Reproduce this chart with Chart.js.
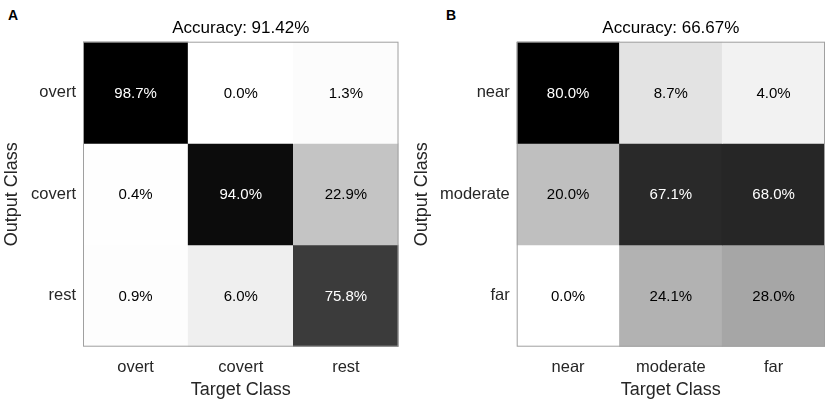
<!DOCTYPE html>
<html>
<head>
<meta charset="utf-8">
<script src="https://cdn.jsdelivr.net/npm/chart.js@4.4.0/dist/chart.umd.min.js"></script>
<style>
  html, body { margin: 0; padding: 0; background: #fff; }
  body { width: 829px; height: 404px; position: relative; overflow: hidden; font-family: "Liberation Sans", Arial, sans-serif; }
  canvas { position: absolute; top: 0; }
  .plabel { position: absolute; font-weight: bold; font-size: 14px; line-height: 14px; color: #000; }
</style>
</head>
<body>
<div class="plabel" style="left:8px; top:8px;">A</div>
<div class="plabel" style="left:446px; top:8px;">B</div>
<canvas id="cA" width="410" height="404" style="left:0px; width:410px; height:404px;"></canvas>
<canvas id="cB" width="419" height="404" style="left:410px; width:419px; height:404px;"></canvas>
<script>
// ---- Data ----
const classesA = ['overt', 'covert', 'rest'];
const rowA_overt  = [98.7, 0.0, 1.3];
const rowA_covert = [0.4, 94.0, 22.9];
const rowA_rest   = [0.9, 6.0, 75.8];
const accuracyA = 'Accuracy: 91.42%';

const classesB = ['near', 'moderate', 'far'];
const rowB_near     = [80.0, 8.7, 4.0];
const rowB_moderate = [20.0, 67.1, 68.0];
const rowB_far      = [0.0, 24.1, 28.0];
const accuracyB = 'Accuracy: 66.67%';

const xTitle = 'Target Class';
const yTitle = 'Output Class';

const FONT = '"Liberation Sans", Arial, sans-serif';
const TEXT = '#262626';

function grayFor(v, max) {
  const g = Math.round(255 * (1 - v / max));
  return 'rgb(' + g + ',' + g + ',' + g + ')';
}

function makePanel(id, classes, rows, accuracy, geom) {
  const max = Math.max(...rows.flat());
  const datasets = rows.map((row, i) => ({
    label: classes[i],
    data: row.map(() => [i, i + 1]),
    values: row,
    backgroundColor: row.map(v => grayFor(v, max)),
    borderWidth: 0,
    grouped: false,
    barPercentage: 1,
    categoryPercentage: 1
  }));

  const cellPlugin = {
    id: 'cells',
    afterDatasetsDraw(chart) {
      const ctx = chart.ctx;
      ctx.save();
      ctx.font = '15px ' + FONT;
      ctx.textAlign = 'center';
      ctx.textBaseline = 'middle';
      chart.data.datasets.forEach((ds, i) => {
        const meta = chart.getDatasetMeta(i);
        meta.data.forEach((bar, j) => {
          const v = ds.values[j];
          const cy = (bar.y + bar.base) / 2;
          ctx.fillStyle = (v / max > 0.5) ? '#ffffff' : '#000000';
          ctx.fillText(v.toFixed(1) + '%', bar.x, cy + 1);
        });
      });
      const a = chart.chartArea;
      ctx.strokeStyle = '#a0a0a0';
      ctx.lineWidth = 1;
      ctx.strokeRect(a.left + 0.5, a.top + 0.5, a.right - a.left - 1, a.bottom - a.top - 1);
      ctx.restore();
    }
  };

  const canvas = document.getElementById(id);
  const W = canvas.width, H = canvas.height;

  return new Chart(canvas, {
    type: 'bar',
    data: { labels: classes, datasets },
    options: {
      responsive: false,
      animation: false,
      devicePixelRatio: 1,
      layout: { padding: { left: 0, top: 0, bottom: 0, right: W - geom.right } },
      plugins: {
        legend: { display: false },
        tooltip: { enabled: false },
        title: {
          display: true,
          text: accuracy,
          fullSize: false,
          color: '#000',
          font: { family: FONT, size: 17, weight: 'normal', lineHeight: 1.2 },
          padding: { top: 17.8, bottom: geom.top - 17.8 - 20.4 }
        }
      },
      scales: {
        x: {
          type: 'category',
          grid: { display: false, drawTicks: false },
          border: { display: false },
          ticks: { color: TEXT, font: { family: FONT, size: 16.5 }, padding: 11 },
          title: { display: true, text: xTitle, color: TEXT, font: { family: FONT, size: 18, lineHeight: 1.2 }, padding: { top: 0, bottom: 3.2 } },
          afterFit: s => { s.height = H - geom.bottom; }
        },
        y: {
          type: 'linear',
          min: 0,
          max: 3,
          reverse: true,
          grid: { display: false, drawTicks: false },
          border: { display: false },
          afterBuildTicks: s => { s.ticks = classes.map((c, i) => ({ value: i + 0.5 })); },
          ticks: {
            color: TEXT,
            font: { family: FONT, size: 16.5 },
            padding: 7,
            autoSkip: false,
            callback: v => classes[Math.floor(v)]
          },
          title: { display: true, text: yTitle, color: TEXT, font: { family: FONT, size: 18, lineHeight: 1.2 }, padding: { top: 1.2, bottom: 0 } },
          afterFit: s => { s.width = geom.left; }
        }
      }
    },
    plugins: [cellPlugin]
  });
}

makePanel('cA', classesA, [rowA_overt, rowA_covert, rowA_rest], accuracyA,
  { left: 83, right: 398.5, top: 41.7, bottom: 346.7 });
makePanel('cB', classesB, [rowB_near, rowB_moderate, rowB_far], accuracyB,
  { left: 106.7, right: 415, top: 41.7, bottom: 346.7 });
</script>
</body>
</html>
